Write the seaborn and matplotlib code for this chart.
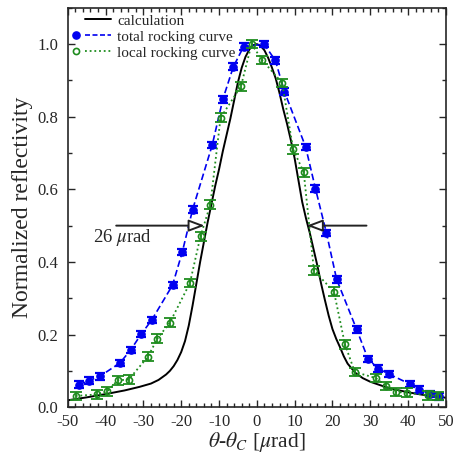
import matplotlib
matplotlib.use("Agg")
import matplotlib.pyplot as plt
from matplotlib.lines import Line2D
from matplotlib.legend_handler import HandlerBase
from matplotlib.ticker import MultipleLocator
import seaborn as sns
import pandas as pd

# calculated curve
calc_x = [-50, -45, -40, -35, -31, -28, -26, -24, -23, -22, -21, -20, -19, -18, -17, -16,
          -15, -14, -13, -12, -11, -10, -9, -8, -7, -6, -5, -4, -3, -2, -1, 0,
          1, 2, 3, 4, 5, 6, 7, 8, 9, 10, 11, 12, 13, 14, 15, 16, 17, 18, 19, 20,
          21, 22, 23, 24, 26, 28, 30, 35, 40, 45, 50]
calc_y = [0.019, 0.027, 0.036, 0.046, 0.056, 0.065, 0.075, 0.090, 0.100, 0.113, 0.130, 0.152,
          0.182, 0.225, 0.280, 0.340, 0.400, 0.455, 0.510, 0.560, 0.610, 0.655, 0.705,
          0.750, 0.795, 0.845, 0.895, 0.935, 0.965, 0.985, 0.997, 1.000,
          0.995, 0.983, 0.962, 0.935, 0.905, 0.865, 0.820, 0.780, 0.735, 0.685, 0.625,
          0.565, 0.520, 0.480, 0.435, 0.390, 0.340, 0.295, 0.252, 0.215, 0.188, 0.165,
          0.140, 0.120, 0.095, 0.080, 0.070, 0.052, 0.041, 0.032, 0.026]

# total rocking curve
tot_x = [-47.1, -44.4, -41.5, -36.2, -33.4, -30.6, -27.8, -22.3, -19.7, -17.0, -11.8,
         -9.0, -6.2, -3.5, 1.9, 4.9, 7.3, 12.9, 15.5, 18.4, 21.1, 26.4, 29.4, 32.1,
         35.0, 40.4, 43.0, 45.8, 48.2]
tot_y = [0.062, 0.073, 0.085, 0.122, 0.157, 0.201, 0.240, 0.336, 0.428, 0.544, 0.722,
         0.848, 0.938, 0.993, 1.000, 0.955, 0.869, 0.717, 0.602, 0.480, 0.352, 0.214,
         0.133, 0.106, 0.091, 0.064, 0.048, 0.036, 0.030]
tot_err = [0.009] * len(tot_x)

# local rocking curve
loc_x = [-47.9, -42.3, -39.5, -36.8, -33.9, -28.8, -26.3, -23.0, -17.7, -14.9, -12.3,
         -9.6, -4.2, -1.4, 1.4, 6.7, 9.6, 12.4, 15.1, 20.4, 23.3, 25.9, 31.5, 34.2,
         36.8, 39.6, 45.2, 48.0]
loc_y = [0.031, 0.035, 0.044, 0.074, 0.076, 0.139, 0.189, 0.233, 0.342, 0.471, 0.558,
         0.797, 0.884, 1.000, 0.956, 0.893, 0.710, 0.647, 0.376, 0.318, 0.173, 0.097,
         0.080, 0.058, 0.042, 0.040, 0.033, 0.031]
loc_err = [0.012] * len(loc_x)

BLUE = "#0000f0"
GREEN = "#1e8c1e"

sns.set_theme(style="ticks")
plt.rcParams["font.family"] = ["Liberation Serif", "DejaVu Serif"]
plt.rcParams["mathtext.fontset"] = "stix"
plt.rcParams["axes.unicode_minus"] = False
plt.rcParams["xtick.direction"] = "in"
plt.rcParams["ytick.direction"] = "in"

fig = plt.figure(figsize=(4.55, 4.58), dpi=100)
ax = fig.add_axes([0.149, 0.111, 0.831, 0.872])

df_calc = pd.DataFrame({"x": calc_x, "y": calc_y})
df_tot = pd.DataFrame({"x": tot_x, "y": tot_y, "e": tot_err})
df_loc = pd.DataFrame({"x": loc_x, "y": loc_y, "e": loc_err})

sns.lineplot(data=df_calc, x="x", y="y", ax=ax, color="black", linewidth=1.4)

sns.lineplot(data=df_tot, x="x", y="y", ax=ax, color=BLUE, linewidth=1.2,
             linestyle=(0, (4, 2)), marker="o", markersize=5.4,
             markeredgecolor=BLUE, markerfacecolor=BLUE)
ax.errorbar(df_tot["x"], df_tot["y"], yerr=df_tot["e"], fmt="none", ecolor=BLUE,
            elinewidth=1.6, capsize=3.8, capthick=1.6)

sns.lineplot(data=df_loc, x="x", y="y", ax=ax, color=GREEN, linewidth=1.3,
             linestyle=(0, (1, 1.6)), marker="o", markersize=4.4,
             markeredgecolor=GREEN, markerfacecolor="none", markeredgewidth=1.2)
ax.errorbar(df_loc["x"], df_loc["y"], yerr=df_loc["e"], fmt="none", ecolor=GREEN,
            elinewidth=1.3, capsize=4.2, capthick=1.3)

# FWHM arrows, open heads
arrow = dict(arrowstyle="-|>,head_length=0.8,head_width=0.3", edgecolor="#222222",
             facecolor="white", lw=1.4, shrinkA=0, shrinkB=0)
ax.annotate("", xy=(-13.8, 0.5), xytext=(-37.2, 0.5), arrowprops=arrow)
ax.annotate("", xy=(13.2, 0.5), xytext=(29.0, 0.5), arrowprops=arrow)
ax.text(-43.4, 0.466, r"26 $\mu$rad", fontsize=13.5, va="center", ha="left")

ax.set_xlim(-50, 50)
ax.set_ylim(0, 1.1)
ax.xaxis.set_major_locator(MultipleLocator(10))
ax.xaxis.set_minor_locator(MultipleLocator(2))
ax.yaxis.set_minor_locator(MultipleLocator(0.1))
ax.set_yticks([0, 0.2, 0.4, 0.6, 0.8, 1.0])
ax.set_yticklabels(["0.0", "0.2", "0.4", "0.6", "0.8", "1.0"])
ax.tick_params(which="both", top=True, right=True, labelsize=12, width=1.0)
ax.tick_params(which="major", length=5)
ax.tick_params(which="minor", length=3)
ax.tick_params(axis="y", which="major", pad=7)
ax.tick_params(axis="x", which="major", pad=5)
for s in ax.spines.values():
    s.set_linewidth(1.2)

ax.set_xlabel(r"$\theta$-$\theta_C$ [$\mu$rad]", fontsize=15.5, labelpad=0)
ax.set_ylabel("Normalized reflectivity", fontsize=17, labelpad=3)


class MarkerThenLine(HandlerBase):
    # marker sits at the left end, line fills the rest
    def create_artists(self, legend, orig, xdescent, ydescent, width, height,
                       fontsize, trans):
        y = height / 2 - ydescent
        x0 = -xdescent
        ln = Line2D([x0 + 0.3 * width, x0 + width], [y, y], color=orig.get_color(),
                    linewidth=orig.get_linewidth())
        ln.set_linestyle(orig.get_gid() or "-")
        ln.set_transform(trans)
        arts = [ln]
        if orig.get_marker() not in (None, "None", "", " "):
            mk = Line2D([x0 + 0.07 * width], [y], linestyle="none",
                        marker=orig.get_marker(), markersize=orig.get_markersize(),
                        markerfacecolor=orig.get_markerfacecolor(),
                        markeredgecolor=orig.get_markeredgecolor(),
                        markeredgewidth=orig.get_markeredgewidth())
            mk.set_transform(trans)
            arts.append(mk)
        return arts


h_calc = Line2D([], [], color="black", linewidth=1.4, marker="None")
h_tot = Line2D([], [], color=BLUE, linewidth=1.2, marker="o", markersize=5.2,
               markerfacecolor=BLUE, markeredgecolor=BLUE)
h_tot.set_gid((0, (3, 1.5)))
h_loc = Line2D([], [], color=GREEN, linewidth=1.3, marker="o", markersize=4.4,
               markerfacecolor="none", markeredgecolor=GREEN, markeredgewidth=1.2)
h_loc.set_gid((0, (1, 1.6)))
ax.legend([h_calc, h_tot, h_loc],
          ["calculation", "total rocking curve", "local rocking curve"],
          handler_map={Line2D: MarkerThenLine()}, loc="upper left",
          frameon=False, fontsize=11, handlelength=2.4, handletextpad=0.45,
          labelspacing=0.15, borderaxespad=0.0, bbox_to_anchor=(0.0, 1.0))

fig.savefig("out.png", dpi=100)
